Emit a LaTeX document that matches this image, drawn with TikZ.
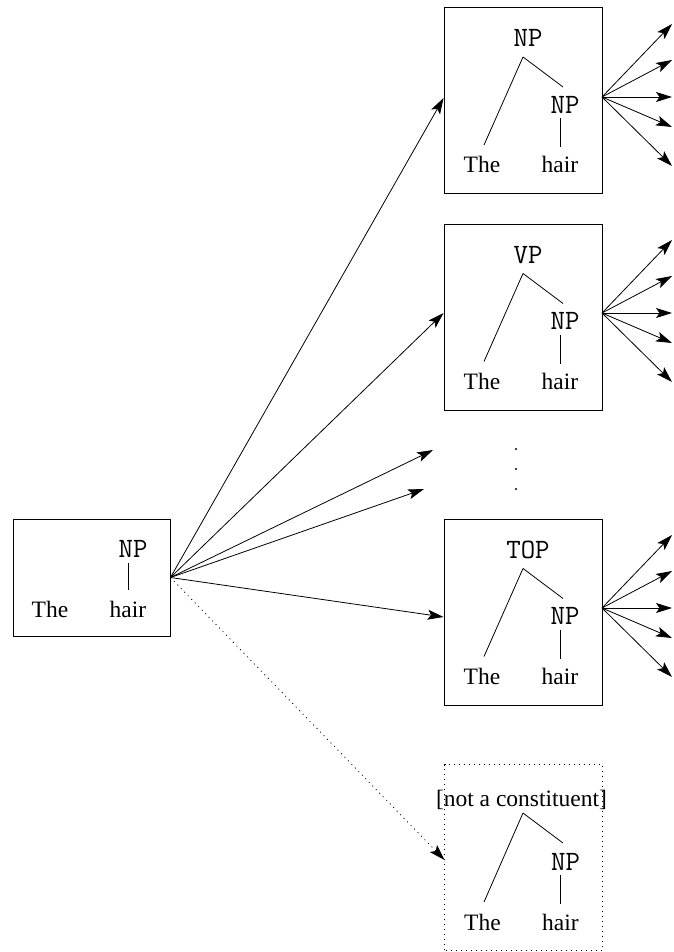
\documentclass[tikz,border=0pt]{standalone}
\usepackage{fontspec}
\setmainfont{Liberation Serif}
\usetikzlibrary{arrows.meta,calc}

\tikzset{
  tbox/.style={draw, line width=0.9pt, minimum width=158pt, minimum height=186pt, inner sep=0pt},
  word/.style={font=\fontsize{23.5}{23.5}\selectfont, anchor=base, inner sep=0pt},
  cat/.style={font=\ttfamily\fontsize{28}{28}\selectfont, anchor=base, inner sep=0pt},
  branch/.style={line width=0.8pt},
  arr/.style={line width=0.8pt, -{Stealth[length=16pt,width=10pt,inset=3.5pt]}},
  darr/.style={arr, dash pattern=on 1pt off 4pt},
}

% a small tree "X -> (The) (NP -> hair)" inside a box
\newcommand\smalltree[3]{%
  \begin{scope}[shift={(#1.center)}]
    \node[#3] (#1-top) at (5,-54) {#2};
    \coordinate (#1-apex) at (0,-43.5);
    \node[cat] (#1-np) at (42,12.7) {NP};
    \node[word] (#1-the) at (-41,72.5) {The};
    \node[word] (#1-hair) at (37,72.5) {hair};
    \draw[branch] (#1-apex) -- (-39,44.5);
    \draw[branch] (#1-apex) -- (40,-13.5);
    \draw[branch] (37,17.5) -- (37,46.5);
  \end{scope}}

\begin{document}
\begin{tikzpicture}[x=1pt,y=-1pt]
\useasboundingbox (0,0) rectangle (673,952);

% source box
\node[tbox, minimum height=117pt, minimum width=157pt] (src) at (91.5,577.5) {};
\begin{scope}[shift={(src.center)}]
  \node[cat] (src-np) at (41.5,-20.5) {NP};
  \node[word] (src-the) at (-41.5,39.5) {The};
  \node[word] (src-hair) at (36.5,39.5) {hair};
  \draw[branch] (36.5,-14.5) -- (36.5,12.5);
\end{scope}

% candidate boxes
\node[tbox] (b1) at (523,100.5) {};
\node[tbox] (b2) at (523,317) {};
\node[tbox] (b3) at (523,612) {};
\node[tbox, draw=none, minimum width=157pt, minimum height=185pt] (b4) at (523.5,857.5) {};
\draw[line width=0.9pt, dash pattern=on 1pt off 4pt] (b4.south west) rectangle (b4.north east);

\smalltree{b1}{NP}{cat}
\smalltree{b2}{VP}{cat}
\smalltree{b3}{TOP}{cat}
\begin{scope}[shift={(b4.center)}]
  \node[word] (b4-top) at (-2,-51) {[not a constituent]};
  \coordinate (b4-apex) at (-0.5,-44.5);
  \node[cat] (b4-np) at (42,12.7) {NP};
  \node[word] (b4-the) at (-41,72.5) {The};
  \node[word] (b4-hair) at (37,72.5) {hair};
  \draw[branch] (b4-apex) -- (-39.5,44.5);
  \draw[branch] (b4-apex) -- (39.5,-14.5);
  \draw[branch] (37,17.5) -- (37,46.5);
\end{scope}

% ellipsis between boxes
\node[circle, fill, inner sep=0pt, minimum size=2.2pt] (dot1) at (516,449) {};
\node[circle, fill, inner sep=0pt, minimum size=2.2pt] (dot2) at (516,469) {};
\node[circle, fill, inner sep=0pt, minimum size=2.2pt] (dot3) at (516,489) {};

% arrows out of the source box
\coordinate (open1) at (433,450);
\coordinate (open2) at (424,489);
\draw[arr] (src.east) -- (b1.west |- 0,98);
\draw[arr] (src.east) -- (b2.west |- 0,313);
\draw[arr] (src.east) -- (open1);
\draw[arr] (src.east) -- (open2);
\draw[arr] (src.east) -- (b3.west |- 0,617);
\draw[darr] (src.east) -- (b4.west |- 0,860);

% fans leaving each candidate box
\foreach \b/\y in {b1/97, b2/313, b3/608}{
  \coordinate (\b-fan) at (602,\y);
  \foreach \d [count=\i] in {-73,-37,0,30,69}{
    \coordinate (\b-out\i) at (672,\y+\d);
    \draw[arr] (\b-fan) -- (\b-out\i);
  }
}
\end{tikzpicture}
\end{document}
